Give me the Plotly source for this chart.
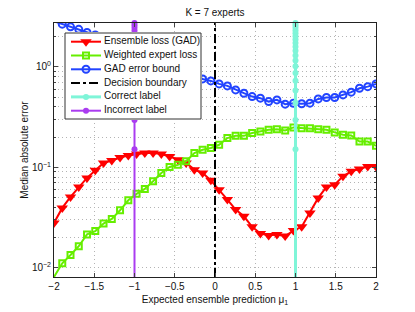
import plotly.graph_objects as go

# ---------------- data ----------------
x_pred = [-2.0, -1.8974, -1.7949, -1.6923, -1.5897, -1.4872, -1.3846, -1.2821, -1.1795, -1.0769,
          -0.9744, -0.8718, -0.7692, -0.6667, -0.5641, -0.4615, -0.359, -0.2564, -0.1538, -0.0513,
          0.0513, 0.1538, 0.2564, 0.359, 0.4615, 0.5641, 0.6667, 0.7692, 0.8718, 0.9744,
          1.0769, 1.1795, 1.2821, 1.3846, 1.4872, 1.5897, 1.6923, 1.7949, 1.8974, 2.0]

ensemble_loss = [0.028, 0.0395, 0.0508, 0.0639, 0.0785, 0.0934, 0.1106, 0.117, 0.1256, 0.1315,
                 0.136, 0.139, 0.139, 0.136, 0.1286, 0.119, 0.1106, 0.095, 0.088, 0.0743,
                 0.060, 0.0478, 0.038, 0.0326, 0.0256, 0.022, 0.021, 0.0215, 0.0207, 0.0235,
                 0.0256, 0.0352, 0.0497, 0.0639, 0.0673, 0.0814, 0.0913, 0.0964, 0.1023, 0.1023]

weighted_expert_loss = [0.0081, 0.0111, 0.0134, 0.0164, 0.0215, 0.0232, 0.0276, 0.0307, 0.0374, 0.047,
                        0.0545, 0.061, 0.0727, 0.088, 0.101, 0.106, 0.115, 0.139, 0.150, 0.156,
                        0.168, 0.196, 0.206, 0.206, 0.22, 0.228, 0.237, 0.240, 0.233, 0.250,
                        0.246, 0.246, 0.240, 0.237, 0.223, 0.211, 0.208, 0.181, 0.181, 0.164]

gad_error_bound = [2.85, 2.67, 2.51, 2.37, 2.21, 2.08, 1.95, 1.84, 1.72, 1.62,
                   1.50, 1.40, 1.30, 1.18, 1.08, 0.99, 0.90, 0.82, 0.76, 0.726,
                   0.678, 0.648, 0.591, 0.548, 0.507, 0.489, 0.452, 0.470, 0.426, 0.435,
                   0.430, 0.436, 0.481, 0.496, 0.496, 0.527, 0.561, 0.614, 0.637, 0.678]

decision_x = [0, 0]
decision_y = [0.0081, 2.74]

correct_label = 1
incorrect_label = -1
label_marker_y = [0.0081, 0.152, 0.296, 0.440, 0.584, 0.728, 0.872, 1.016, 1.160, 1.304,
                  1.448, 1.592, 1.736, 1.880, 2.024, 2.168, 2.312, 2.456, 2.600, 2.740]

series_names = ["Ensemble loss (GAD)", "Weighted expert loss", "GAD error bound",
                "Decision boundary", "Correct label", "Incorrect label"]

x_ticks = [-2, -1.5, -1, -0.5, 0, 0.5, 1, 1.5, 2]
y_ticks = [0.01, 0.1, 1]
y_ticktext = ["10<sup>\u22122</sup>", "10<sup>\u22121</sup>", "10<sup>0</sup>"]
y_minor = [0.02, 0.03, 0.04, 0.05, 0.06, 0.07, 0.08, 0.09,
           0.2, 0.3, 0.4, 0.5, 0.6, 0.7, 0.8, 0.9, 2]

# ---------------- styles ----------------
RED = "#ff0000"
GREEN = "#66ee00"
BLUE = "#2244ff"
BLACK = "#000000"
CYAN = "#7ff5d8"
PURPLE = "#aa3cf0"
GRID = "#b4b4b4"
FONT = "Liberation Sans, Arial, sans-serif"

styles = [
    dict(mode="lines+markers", line=dict(color=RED, width=2),
         marker=dict(symbol="triangle-down", size=10, color=RED)),
    dict(mode="lines+markers", line=dict(color=GREEN, width=2),
         marker=dict(symbol="square-open", size=6, color=GREEN, line=dict(width=2))),
    dict(mode="lines+markers", line=dict(color=BLUE, width=2),
         marker=dict(symbol="circle-open", size=7, color=BLUE, line=dict(width=2))),
    dict(mode="lines", line=dict(color=BLACK, width=2, dash="dashdot")),
    dict(mode="lines+markers", line=dict(color=CYAN, width=3),
         marker=dict(symbol="circle", size=6, color=CYAN)),
    dict(mode="lines+markers", line=dict(color=PURPLE, width=2),
         marker=dict(symbol="circle", size=6, color=PURPLE)),
]

fig = go.Figure()

fig.add_trace(go.Scatter(x=x_pred, y=ensemble_loss, name=series_names[0], **styles[0]))
fig.add_trace(go.Scatter(x=x_pred, y=weighted_expert_loss, name=series_names[1], **styles[1]))
fig.add_trace(go.Scatter(x=x_pred, y=gad_error_bound, name=series_names[2], **styles[2]))
fig.add_trace(go.Scatter(x=decision_x, y=decision_y, name=series_names[3], **styles[3]))
fig.add_trace(go.Scatter(x=[correct_label] * len(label_marker_y), y=label_marker_y,
                         name=series_names[4], cliponaxis=False, **styles[4]))
fig.add_trace(go.Scatter(x=[incorrect_label] * len(label_marker_y), y=label_marker_y,
                         name=series_names[5], cliponaxis=False, **styles[5]))

# ---------------- custom legend (drawn in its own pixel-sized subplot) ----------------
PLOT_L, PLOT_R, PLOT_T, PLOT_B = 54, 376, 23, 277
LEG_L, LEG_R, LEG_T, LEG_B = 64, 202, 32, 120
box_l, box_r, box_t, box_b = 65, 201, 33, 119

fig.add_trace(go.Scatter(x=[box_l, box_r, box_r, box_l, box_l],
                         y=[box_t, box_t, box_b, box_b, box_t],
                         xaxis="x2", yaxis="y2", mode="lines", fill="toself",
                         fillcolor="white", line=dict(color="#333333", width=1),
                         hoverinfo="skip", showlegend=False))
row0, row_step = 41.7, 13.8
for i, name in enumerate(series_names):
    ry = row0 + i * row_step
    st = styles[i]
    fig.add_trace(go.Scatter(x=[71, 101], y=[ry, ry], xaxis="x2", yaxis="y2",
                             mode="lines", line=st["line"], hoverinfo="skip", showlegend=False))
    if "marker" in st:
        fig.add_trace(go.Scatter(x=[86], y=[ry], xaxis="x2", yaxis="y2", mode="markers",
                                 marker=st["marker"], hoverinfo="skip", showlegend=False))
    fig.add_trace(go.Scatter(x=[104], y=[ry], xaxis="x2", yaxis="y2", mode="text",
                             text=[name], textposition="middle right",
                             textfont=dict(family=FONT, size=10, color="#111111"),
                             hoverinfo="skip", showlegend=False))

pw, ph = PLOT_R - PLOT_L, PLOT_B - PLOT_T

fig.update_layout(
    width=415, height=312,
    margin=dict(l=PLOT_L, r=415 - PLOT_R, t=PLOT_T, b=312 - PLOT_B, autoexpand=False),
    paper_bgcolor="white", plot_bgcolor="white",
    showlegend=False,
    font=dict(family=FONT, size=10, color="#111111"),
    title=dict(text="K = 7 experts", x=(PLOT_L + PLOT_R) / 2 / 415, xanchor="center",
               y=1 - 12.5 / 312, yanchor="middle",
               font=dict(family=FONT, size=10, color="#111111")),
    xaxis=dict(range=[-2, 2], tickvals=x_ticks, ticks="inside", ticklen=4,
               showline=True, linecolor="#222222", linewidth=1, mirror="allticks",
               showgrid=True, gridcolor=GRID, griddash="1px,3px", gridwidth=1,
               zeroline=False, tickfont=dict(size=10), automargin=False,
               title=dict(text="Expected ensemble prediction \u03bc<sub>1</sub>",
                          font=dict(size=10), standoff=4)),
    yaxis=dict(type="log", range=[-2.0915, 0.4378], tickvals=y_ticks, ticktext=y_ticktext,
               ticks="inside", ticklen=4,
               showline=True, linecolor="#222222", linewidth=1, mirror="allticks",
               showgrid=True, gridcolor=GRID, griddash="1px,3px", gridwidth=1,
               zeroline=False, tickfont=dict(size=10), automargin=False,
               minor=dict(tickvals=y_minor, ticks="inside", ticklen=2, showgrid=True,
                          gridcolor=GRID, griddash="1px,3px", gridwidth=1),
               title=dict(text="Median absolute error", font=dict(size=10), standoff=1)),
    xaxis2=dict(domain=[(LEG_L - PLOT_L) / pw, (LEG_R - PLOT_L) / pw], range=[LEG_L, LEG_R],
                anchor="y2", visible=False, fixedrange=True),
    yaxis2=dict(domain=[(PLOT_B - LEG_B) / ph, (PLOT_B - LEG_T) / ph], range=[LEG_B, LEG_T],
                anchor="x2", visible=False, fixedrange=True),
)

fig.write_html("out.html", config={"displayModeBar": False},
               post_script="document.body.style.margin='0';")
